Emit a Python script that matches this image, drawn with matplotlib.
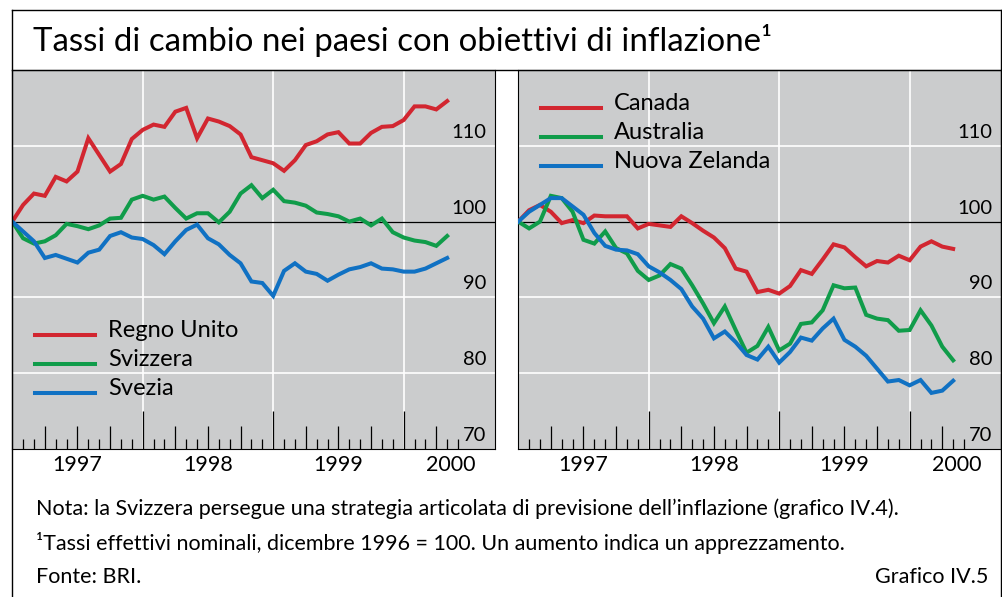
import matplotlib
matplotlib.use("Agg")
import matplotlib.pyplot as plt
import matplotlib.transforms as mtransforms
from matplotlib.lines import Line2D
from matplotlib.legend_handler import HandlerLine2D
import numpy as np

plt.rcParams['font.family'] = ['Lato', 'DejaVu Sans']

# ---------------- data (monthly, Dec 1996 = 100, Dec 1996 .. Apr 2000) -------------
months = np.arange(41)

regno_unito = [100.0, 102.2, 103.7, 103.4, 105.9, 105.3, 106.6, 111.0, 108.8, 106.6,
               107.6, 110.9, 112.1, 112.8, 112.5, 114.5, 115.0, 111.0, 113.6, 113.2,
               112.6, 111.5, 108.5, 108.1, 107.7, 106.7, 108.1, 110.1, 110.6, 111.5,
               111.8, 110.3, 110.3, 111.7, 112.5, 112.6, 113.4, 115.2, 115.2, 114.8,
               115.9]
svizzera = [100.0, 97.8, 97.1, 97.4, 98.2, 99.7, 99.4, 99.0, 99.5, 100.4,
            100.5, 102.9, 103.4, 102.9, 103.3, 101.8, 100.4, 101.1, 101.1, 99.9,
            101.3, 103.7, 104.8, 103.1, 104.2, 102.7, 102.5, 102.1, 101.2, 101.0,
            100.7, 100.0, 100.4, 99.5, 100.4, 98.6, 97.9, 97.5, 97.3, 96.8,
            98.1]
svezia = [100.0, 98.7, 97.4, 95.2, 95.6, 95.1, 94.6, 95.9, 96.3, 98.1,
          98.6, 97.9, 97.7, 96.9, 95.7, 97.4, 98.9, 99.6, 97.8, 97.0,
          95.6, 94.5, 92.1, 91.9, 90.2, 93.5, 94.5, 93.4, 93.1, 92.2,
          93.0, 93.7, 94.0, 94.5, 93.8, 93.7, 93.4, 93.4, 93.8, 94.5,
          95.2]

canada = [100.0, 101.5, 102.2, 101.3, 99.8, 100.2, 99.8, 100.8, 100.7, 100.7,
          100.7, 99.1, 99.7, 99.5, 99.3, 100.7, 99.8, 98.8, 97.9, 96.5,
          93.8, 93.4, 90.7, 91.0, 90.5, 91.5, 93.6, 93.1, 95.0, 97.0,
          96.6, 95.3, 94.1, 94.8, 94.6, 95.5, 94.9, 96.7, 97.4, 96.7,
          96.4]
australia = [100.0, 99.1, 100.0, 103.4, 103.1, 101.3, 97.6, 97.1, 98.7, 96.5,
             95.8, 93.5, 92.3, 92.9, 94.4, 93.8, 91.6, 89.2, 86.6, 88.8,
             85.7, 82.7, 83.6, 86.1, 83.0, 83.9, 86.5, 86.7, 88.3, 91.6,
             91.2, 91.3, 87.7, 87.2, 87.0, 85.6, 85.7, 88.3, 86.3, 83.5,
             81.7]
nuova_zelanda = [100.0, 101.3, 102.2, 103.1, 103.1, 102.0, 100.9, 98.5, 96.8, 96.3,
                 96.2, 95.7, 94.1, 93.3, 92.3, 91.1, 88.8, 87.2, 84.6, 85.5,
                 84.1, 82.4, 81.8, 83.5, 81.4, 82.8, 84.7, 84.3, 85.9, 87.2,
                 84.4, 83.5, 82.3, 80.6, 78.9, 79.1, 78.4, 79.1, 77.4, 77.7,
                 79.0]

year_labels = ['1997', '1998', '1999', '2000']
year_label_pos = [6, 18, 30, 40.3]
y_labels = [70, 80, 90, 100, 110]

title = 'Tassi di cambio nei paesi con obiettivi di inflazione\u00b9'
notes = ['Nota: la Svizzera persegue una strategia articolata di previsione dell\u2019inflazione (grafico IV.4).',
         '\u00b9Tassi effettivi nominali, dicembre 1996 = 100. Un aumento indica un apprezzamento.',
         'Fonte: BRI.']
source_tag = 'Grafico IV.5'

RED = '#d22630'
GREEN = '#109c4a'
BLUE = '#1071c3'
BG = '#cbcccd'

W, H = 1002, 597
fig = plt.figure(figsize=(W / 100, H / 100), dpi=100)
fig.patch.set_facecolor('white')


def fx(x):
    return x / W


def fy(y):
    return 1 - y / H


class ShiftedLine(HandlerLine2D):
    """Legend line drawn slightly lower, near the text baseline."""
    def __init__(self, shift, **kw):
        super().__init__(**kw)
        self.shift = shift

    def create_artists(self, legend, orig_handle, xdescent, ydescent, width, height,
                       fontsize, trans):
        arts = super().create_artists(legend, orig_handle, xdescent, ydescent, width,
                                      height, fontsize, trans)
        for a in arts:
            a.set_ydata(np.asarray(a.get_ydata(), dtype=float) - self.shift)
        return arts


# outer frame and title rule
lw_frame = 1.0
for xs, ys in [((12, 12), (597, 10)), ((12, 1001), (10, 10)), ((1001, 1001), (10, 597)),
               ((12, 1001), (70, 70))]:
    fig.add_artist(Line2D([fx(xs[0]), fx(xs[1])], [fy(ys[0]), fy(ys[1])],
                          transform=fig.transFigure, color='black', lw=lw_frame))

fig.text(fx(33), fy(51), title, fontsize=23.8, ha='left', va='baseline')


def make_panel(x0, series, legend_xy):
    ax = fig.add_axes([fx(x0), fy(449), fx(483), 379 / H])
    ax.set_facecolor(BG)
    ax.set_xlim(-0.02, 44.4)
    ax.set_ylim(70, 120)
    for s in ax.spines.values():
        s.set_linewidth(0.8)
        s.set_color('black')
    ax.set_xticks([])
    ax.set_yticks([])
    # grid
    for g in [12, 24, 36]:
        ax.axvline(g, color='white', lw=1.2, zorder=1)
    for g in [80, 90, 110]:
        ax.axhline(g, color='white', lw=1.2, zorder=1)
    ax.axhline(100, color='black', lw=0.9, zorder=2)
    # month ticks
    trans = mtransforms.blended_transform_factory(ax.transData, ax.transAxes)
    for m in range(1, 42):
        if m % 12 == 0:
            h = 38 / 379
        elif m % 3 == 0:
            h = 23 / 379
        else:
            h = 10 / 379
        ax.plot([m, m], [0, h], transform=trans, color='black', lw=0.9, zorder=3,
                solid_capstyle='butt')
    # y labels
    ytrans = (mtransforms.blended_transform_factory(ax.transAxes, ax.transData)
              + mtransforms.ScaledTranslation(0, 8 / 100, fig.dpi_scale_trans))
    for v in y_labels:
        ax.text(1 - 9 / 483, v, str(v), transform=ytrans,
                ha='right', va='baseline', fontsize=14.5, zorder=4)
    # year labels
    for lab, p in zip(year_labels, year_label_pos):
        ax.text(p, -16 / 379, lab, transform=trans, ha='center', va='center',
                fontsize=15.5, clip_on=False)
    handles = []
    for name, vals, col in series:
        ln, = ax.plot(months, vals, color=col, lw=2.9, zorder=5, solid_joinstyle='miter',
                      label=name)
        handles.append(ln)
    ax.legend(handles=handles, loc='upper left', bbox_to_anchor=legend_xy,
              frameon=False, fontsize=17, handlelength=2.54, handletextpad=0.55,
              labelspacing=0.34, borderpad=0, borderaxespad=0,
              handler_map={Line2D: ShiftedLine(4.3)})
    return ax


make_panel(12, [('Regno Unito', regno_unito, RED),
                ('Svizzera', svizzera, GREEN),
                ('Svezia', svezia, BLUE)], (23 / 483, 1 - 250 / 379))
make_panel(518, [('Canada', canada, RED),
                 ('Australia', australia, GREEN),
                 ('Nuova Zelanda', nuova_zelanda, BLUE)], (23 / 483, 1 - 23 / 379))

fs_note = 15.5
fig.text(fx(36), fy(515), notes[0], fontsize=fs_note, ha='left', va='baseline')
fig.text(fx(36), fy(550), notes[1], fontsize=fs_note, ha='left', va='baseline')
fig.text(fx(36), fy(583), notes[2], fontsize=fs_note, ha='left', va='baseline')
fig.text(fx(988), fy(583), source_tag, fontsize=fs_note, ha='right', va='baseline')

fig.savefig('out.png', dpi=100)
